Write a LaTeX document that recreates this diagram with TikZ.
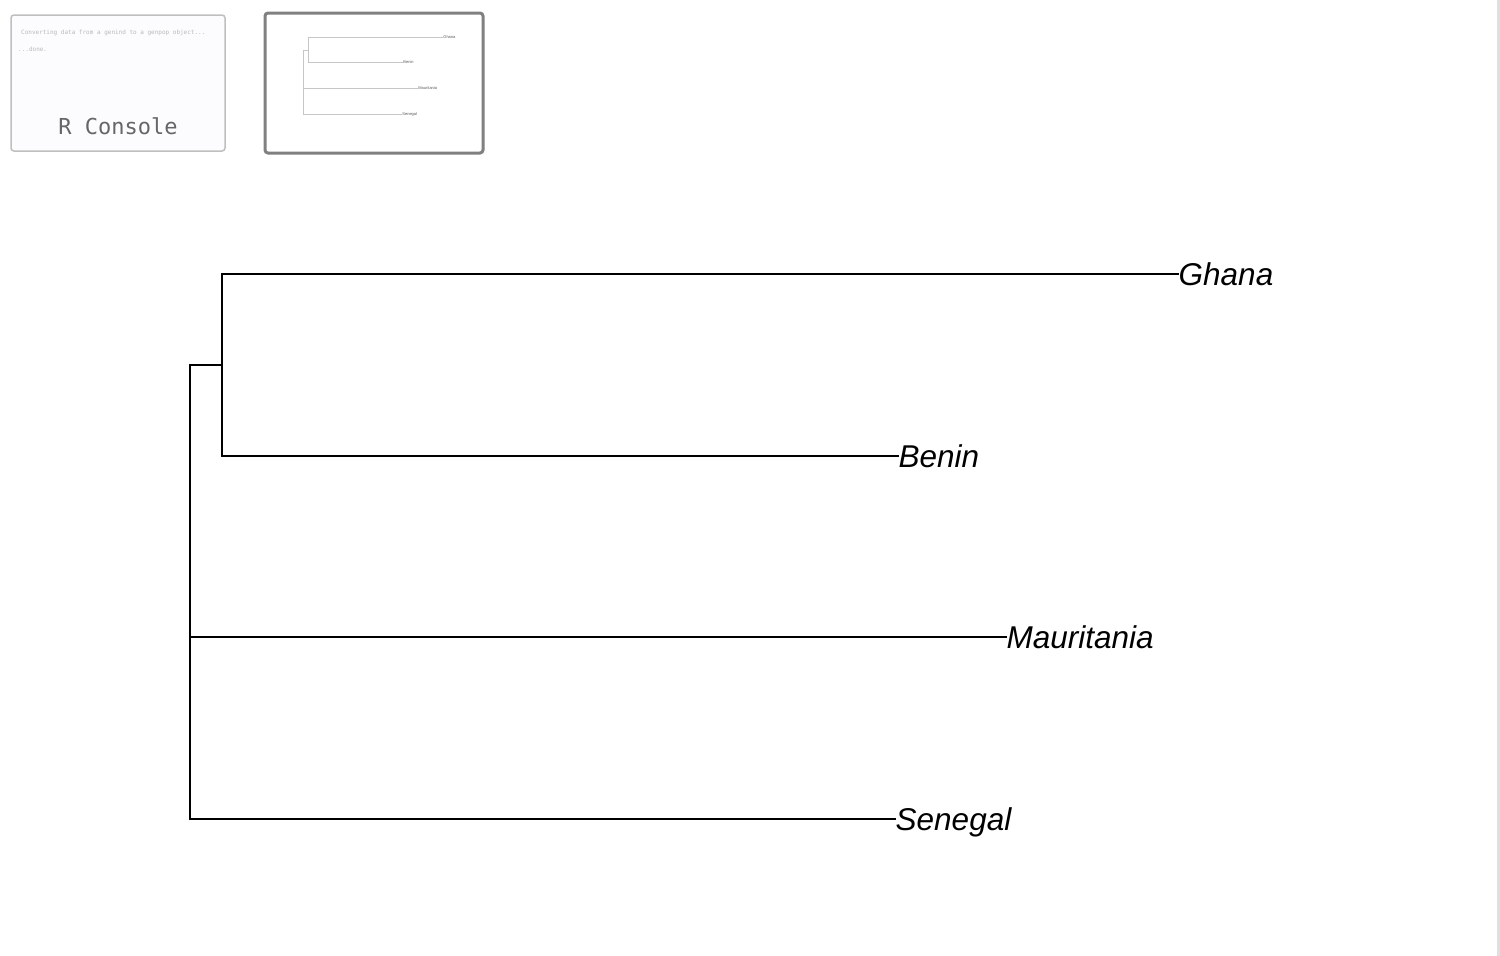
\documentclass[tikz,border=0pt]{standalone}
\usepackage{fontspec}
\newfontfamily\leaffont{Liberation Sans}
\newfontfamily\consolefont{DejaVu Sans Mono}
\tikzset{
  branch/.style={line width=2pt, black, line cap=rect},
  leaf/.style={anchor=west, inner sep=0.5pt, text height=22.5pt, text depth=0pt,
    font=\leaffont\itshape\fontsize{31.5}{32}\selectfont},
  minibranch/.style={line width=0.8pt, gray!45},
  minileaf/.style={anchor=west, inner sep=0.2pt, text height=2.9pt, text depth=0pt,
    font=\leaffont\fontsize{4}{4}\selectfont, gray!70!black},
  consoleline/.style={anchor=west, inner sep=0pt, gray!55,
    font=\consolefont\fontsize{6}{6}\selectfont},
}
\begin{document}
\begin{tikzpicture}[x=1pt,y=-1pt]
  \useasboundingbox (0,0) rectangle (1500,956);
  \fill[gray!25] (1497,0) rectangle (1500,956);
  % console thumbnail
  \draw[rounded corners=3pt, line width=1.5pt, gray!50, fill=blue!1] (11,15) rectangle (225,151);
  \node[consoleline] (conv) at (21,33) {Converting data from a genind to a genpop object...};
  \node[consoleline] (done) at (18,49) {...done.};
  \node[font=\consolefont\fontsize{22}{22}\selectfont, gray!80!black] (rcon) at (118,126) {R Console};
  % plot thumbnail
  \draw[rounded corners=3pt, line width=3pt, gray] (265,13) rectangle (483,153);
  \coordinate (miniroot) at (303,50);
  \coordinate (miniinner) at (308,50);
  \node[minileaf] (mghana) at (443,37) {Ghana};
  \node[minileaf] (mbenin) at (403,62) {Benin};
  \node[minileaf] (mmaur) at (418,88) {Mauritania};
  \node[minileaf] (msene) at (402,114) {Senegal};
  \draw[minibranch] (miniinner) |- (mghana.west);
  \draw[minibranch] (miniinner) |- (mbenin.west);
  \draw[minibranch] (miniroot) -- (miniinner);
  \draw[minibranch] (miniroot) |- (mmaur.west);
  \draw[minibranch] (miniroot) |- (msene.west);
  % main tree
  \coordinate (root) at (190,365);
  \coordinate (inner) at (222,365);
  \node[leaf] (ghana) at (1178,274) {Ghana};
  \node[leaf] (benin) at (898,456) {Benin};
  \node[leaf] (maur) at (1006,637) {Mauritania};
  \node[leaf] (sene) at (895,819) {Senegal};
  \draw[branch] (inner) |- (ghana.west);
  \draw[branch] (inner) |- (benin.west);
  \draw[branch] (root) -- (inner);
  \draw[branch] (root) |- (maur.west);
  \draw[branch] (root) |- (sene.west);
\end{tikzpicture}
\end{document}
